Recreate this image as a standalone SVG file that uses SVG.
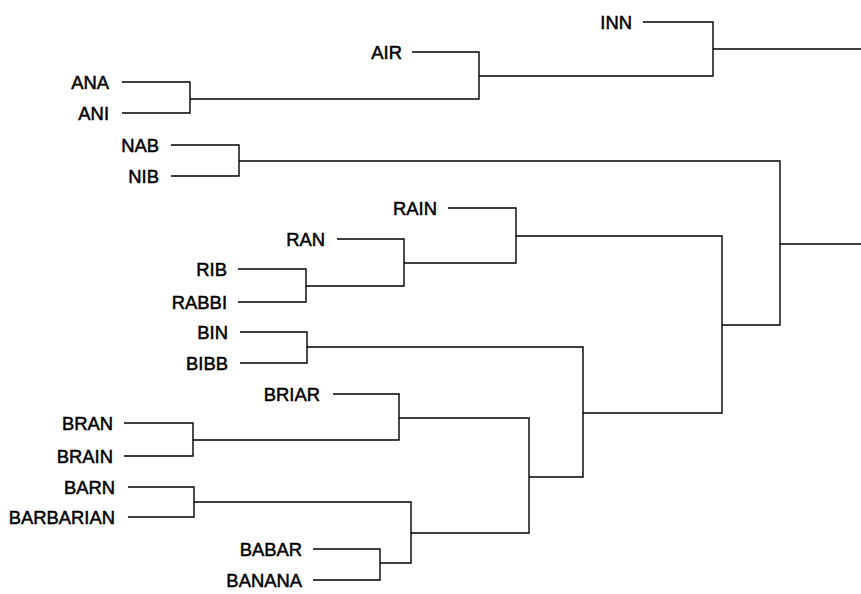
<svg xmlns="http://www.w3.org/2000/svg" width="861" height="594" viewBox="0 0 861 594">
<style>
text{font-family:"Liberation Sans",Arial,sans-serif;font-size:18.4px;fill:#000;text-anchor:end;stroke:#000;stroke-width:0.5}
#connectors path{fill:none;stroke:#000;stroke-width:1.4}
</style>
<rect width="861" height="594" fill="#fff"/>
<g id="connectors">
<path d="M643 22H713V49"/><path d="M412 52H479V76"/>
<path d="M122 82H190V99"/><path d="M122 113H190V99"/>
<path d="M190 99H479V76"/><path d="M479 76H713V49"/>
<path d="M713 49H861"/>
<path d="M171 145H239V161"/><path d="M171 176H239V161"/>
<path d="M239 161H780V244"/>
<path d="M448 208H516V236"/><path d="M337 239H404V263"/>
<path d="M238 269H306V286"/><path d="M238 302H306V286"/>
<path d="M306 286H404V263"/><path d="M404 263H516V236"/>
<path d="M516 236H722V325"/>
<path d="M240 332H307V347"/><path d="M240 363H307V347"/>
<path d="M307 347H583V413"/>
<path d="M333 394H399V418"/>
<path d="M124 423H193V440"/><path d="M124 456H193V440"/>
<path d="M193 440H399V418"/><path d="M399 418H529V477"/>
<path d="M128 487H194V502"/><path d="M128 517H194V502"/>
<path d="M194 502H411V533"/>
<path d="M313 549H380V563"/><path d="M313 580H380V563"/>
<path d="M380 563H411V533"/><path d="M411 533H529V477"/>
<path d="M529 477H583V413"/><path d="M583 413H722V325"/>
<path d="M722 325H780V244"/><path d="M780 244H861"/>
</g>
<g id="INN"><text x="632" y="29">INN</text></g>
<g id="AIR"><text x="402" y="59">AIR</text></g>
<g id="ANA"><text x="109" y="89">ANA</text></g>
<g id="ANI"><text x="109" y="120">ANI</text></g>
<g id="NAB"><text x="159" y="152">NAB</text></g>
<g id="NIB"><text x="159" y="183">NIB</text></g>
<g id="RAIN"><text x="437" y="215">RAIN</text></g>
<g id="RAN"><text x="325" y="246">RAN</text></g>
<g id="RIB"><text x="227" y="276">RIB</text></g>
<g id="RABBI"><text x="227" y="309">RABBI</text></g>
<g id="BIN"><text x="228" y="339">BIN</text></g>
<g id="BIBB"><text x="228" y="370">BIBB</text></g>
<g id="BRIAR"><text x="320" y="401">BRIAR</text></g>
<g id="BRAN"><text x="113" y="430">BRAN</text></g>
<g id="BRAIN"><text x="113" y="463">BRAIN</text></g>
<g id="BARN"><text x="115" y="494">BARN</text></g>
<g id="BARBARIAN"><text x="115" y="524">BARBARIAN</text></g>
<g id="BABAR"><text x="302" y="556">BABAR</text></g>
<g id="BANANA"><text x="302" y="587">BANANA</text></g>
</svg>
